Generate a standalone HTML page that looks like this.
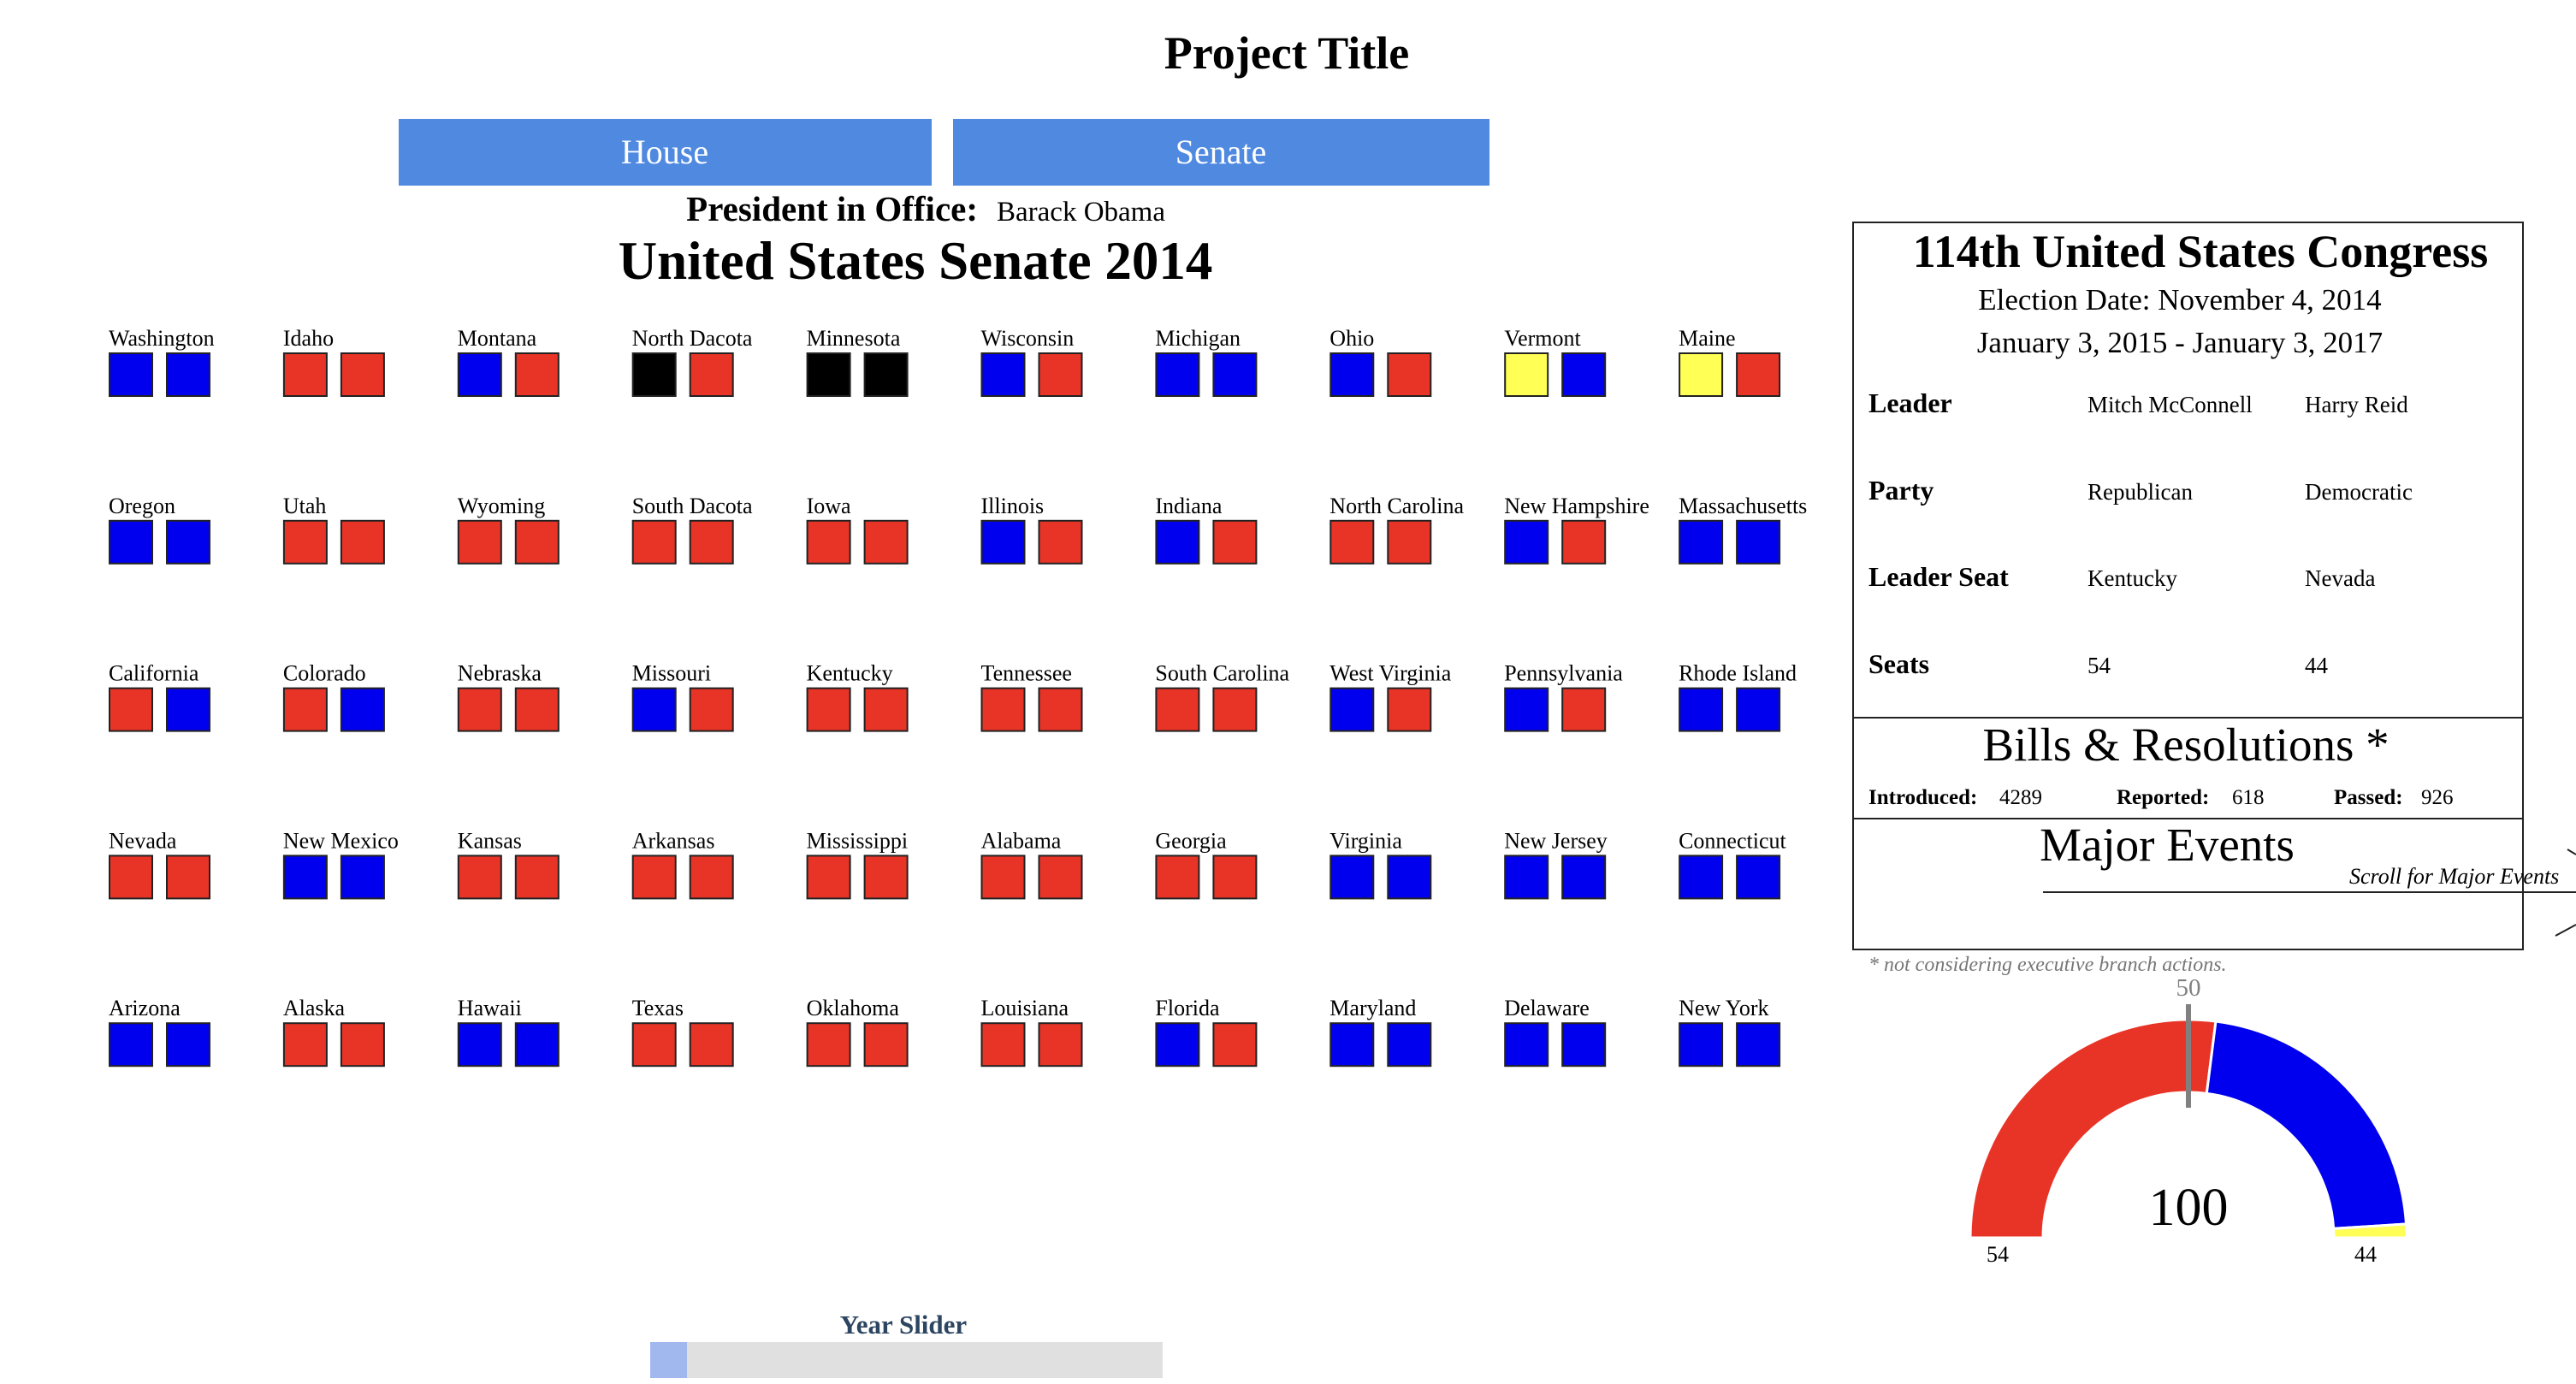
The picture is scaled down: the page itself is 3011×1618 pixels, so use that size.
<!DOCTYPE html>
<html><head><meta charset="utf-8"><style>
html,body{margin:0;padding:0;background:#fff;}
svg{display:block;font-family:"Liberation Serif",serif;}
</style></head><body>
<svg id="page" width="3011" height="1618" viewBox="0 0 3011 1618">
<text x="1504" y="80" text-anchor="middle" font-size="54" font-weight="bold">Project Title</text>
<g><rect x="466" y="139" width="623" height="78" fill="#4f89e0"/><text x="777" y="191" text-anchor="middle" font-size="40" fill="#fff">House</text></g>
<g><rect x="1114" y="139" width="627" height="78" fill="#4f89e0"/><text x="1427" y="191" text-anchor="middle" font-size="40" fill="#fff">Senate</text></g>
<text x="1143" y="258" text-anchor="end" font-size="41" font-weight="bold">President in Office:</text>
<text x="1165" y="258" font-size="33">Barack Obama</text>
<text x="1070" y="326" text-anchor="middle" font-size="63" font-weight="bold">United States Senate 2014</text>
<g id="grid"></g>

<g>
<rect x="2166" y="260" width="783" height="850" fill="none" stroke="#222" stroke-width="2"/>
<line x1="2166" y1="839" x2="2949" y2="839" stroke="#222" stroke-width="2"/>
<line x1="2166" y1="957" x2="2949" y2="957" stroke="#222" stroke-width="2"/>
<text x="2572" y="312" text-anchor="middle" font-size="54" font-weight="bold">114th United States Congress</text>
<text x="2548" y="362" text-anchor="middle" font-size="35">Election Date: November 4, 2014</text>
<text x="2548" y="412" text-anchor="middle" font-size="35">January 3, 2015 - January 3, 2017</text>
<g font-size="32" font-weight="bold">
<text x="2184" y="482">Leader</text>
<text x="2184" y="584">Party</text>
<text x="2184" y="685">Leader Seat</text>
<text x="2184" y="787">Seats</text>
</g>
<g font-size="27">
<text x="2440" y="482">Mitch McConnell</text>
<text x="2694" y="482">Harry Reid</text>
<text x="2440" y="584">Republican</text>
<text x="2694" y="584">Democratic</text>
<text x="2440" y="685">Kentucky</text>
<text x="2694" y="685">Nevada</text>
<text x="2440" y="787">54</text>
<text x="2694" y="787">44</text>
</g>
<text x="2555" y="889" text-anchor="middle" font-size="55">Bills &amp; Resolutions *</text>
<g font-size="25">
<text x="2184" y="940" font-weight="bold">Introduced:</text>
<text x="2337" y="940">4289</text>
<text x="2474" y="940" font-weight="bold">Reported:</text>
<text x="2609" y="940">618</text>
<text x="2728" y="940" font-weight="bold">Passed:</text>
<text x="2830" y="940">926</text>
</g>
<text x="2533" y="1006" text-anchor="middle" font-size="55">Major Events</text>
<line x1="2388" y1="1043" x2="3011" y2="1043" stroke="#222" stroke-width="2"/>
<text x="2746" y="1033" font-size="26" font-style="italic">Scroll for Major Events</text>
<polyline points="3001,993 3011,999" fill="none" stroke="#222" stroke-width="2"/>
<polyline points="3011,1081 2987,1094" fill="none" stroke="#222" stroke-width="2"/>
</g>
<text x="2184" y="1135" font-size="24" font-style="italic" fill="#777">* not considering executive branch actions.</text>

<g id="gauge"></g>

<text x="1056" y="1559" text-anchor="middle" font-size="31" font-weight="bold" fill="#2c4560">Year Slider</text>
<rect x="760" y="1569" width="599" height="42" fill="#e0e0e0"/>
<rect x="760" y="1569" width="43" height="42" fill="#a0b8ee"/>
</svg>
<script>
const stateNames = ["Washington","Idaho","Montana","North Dacota","Minnesota","Wisconsin","Michigan","Ohio","Vermont","Maine",
"Oregon","Utah","Wyoming","South Dacota","Iowa","Illinois","Indiana","North Carolina","New Hampshire","Massachusetts",
"California","Colorado","Nebraska","Missouri","Kentucky","Tennessee","South Carolina","West Virginia","Pennsylvania","Rhode Island",
"Nevada","New Mexico","Kansas","Arkansas","Mississippi","Alabama","Georgia","Virginia","New Jersey","Connecticut",
"Arizona","Alaska","Hawaii","Texas","Oklahoma","Louisiana","Florida","Maryland","Delaware","New York"];
const seatParties = ["DD","RR","DR","OR","OO","DR","DD","DR","ID","IR",
"DD","RR","RR","RR","RR","DR","DR","RR","DR","DD",
"RD","RD","RR","DR","RR","RR","RR","DR","DR","DD",
"RR","DD","RR","RR","RR","RR","RR","DD","DD","DD",
"DD","RR","DD","RR","RR","RR","DR","DD","DD","DD"];
const gaugeParties = ["R","D","I"];
const gaugeSeats = [54,44,2];
const gaugeLabels = ["54","44"];
const gaugeTotal = "100";
const majority = 50;

const NS="http://www.w3.org/2000/svg";
const colors={D:"#0000ee",R:"#e83427",O:"#000000",I:"#ffff55"};
function mk(tag,attrs,parent){const e=document.createElementNS(NS,tag);for(const k in attrs)e.setAttribute(k,attrs[k]);parent.appendChild(e);return e;}
const grid=document.getElementById('grid');
const colX=i=>127+i*203.9, rowY=r=>404+r*195.8;
stateNames.forEach((n,i)=>{
  const c=i%10,r=Math.floor(i/10);
  const g=mk('g',{},grid);
  
  
  const t=mk('text',{x:colX(c),y:rowY(r),'font-size':26},g);t.textContent=n;
  
  
  [...seatParties[i]].forEach((p,j)=>{
    const s=mk('rect',{x:colX(c)+1+j*67,y:rowY(r)+9,width:50,height:50,fill:colors[p],stroke:'#222','stroke-width':2},g);
    
    
  });
});
const gauge=document.getElementById('gauge');
const cx=2558,cy=1447,R=255,r0=170;
const total=gaugeSeats.reduce((a,b)=>a+b,0);
const pt=(f,rad)=>[cx-rad*Math.cos(f*Math.PI),cy-rad*Math.sin(f*Math.PI)];
let acc=0;
gaugeSeats.forEach((v,i)=>{
  const f0=acc/total,f1=(acc+v)/total;acc+=v;
  const a=pt(f0,R),b=pt(f1,R),c2=pt(f1,r0),d=pt(f0,r0);
  const large=(f1-f0)>1?1:0;
  const p=mk('path',{d:`M${a}A${R},${R} 0 ${large} 1 ${b}L${c2}A${r0},${r0} 0 ${large} 0 ${d}Z`,fill:colors[gaugeParties[i]],stroke:'#fff','stroke-width':3},gauge);
  
  
});
const mf=majority/total;
const m1=pt(mf,R+18),m2=pt(mf,r0-18);
const ml=mk('line',{x1:m1[0],y1:m1[1],x2:m2[0],y2:m2[1],stroke:'#808080','stroke-width':6},gauge);


const mt=mk('text',{x:m1[0],y:m1[1]-10,'text-anchor':'middle','font-size':29,fill:'#808080'},gauge);mt.textContent=majority;


const tt=mk('text',{x:cx,y:1432,'text-anchor':'middle','font-size':62},gauge);tt.textContent=gaugeTotal;


const l1=mk('text',{x:2335,y:1475,'text-anchor':'middle','font-size':26},gauge);l1.textContent=gaugeLabels[0];


const l2=mk('text',{x:2765,y:1475,'text-anchor':'middle','font-size':26},gauge);l2.textContent=gaugeLabels[1];


</script>
</body></html>
